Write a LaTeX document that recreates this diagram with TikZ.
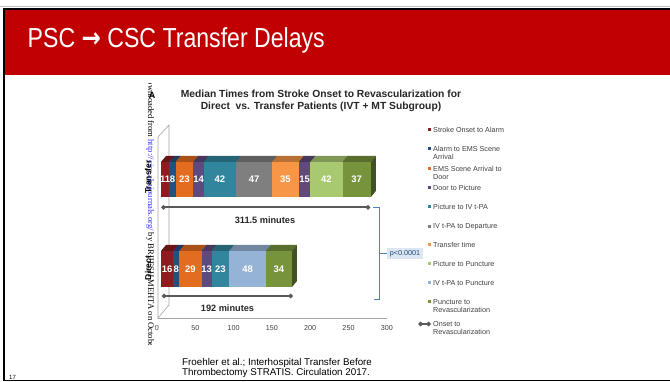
\documentclass[tikz,border=0pt]{standalone}
\usepackage{fontspec}
\setmainfont{Liberation Sans}
\newfontfamily\dlfont{Liberation Serif}
\newfontfamily\symfont{DejaVu Sans}
\usetikzlibrary{arrows.meta, positioning, calc}
\definecolor{slidered}{HTML}{C00000}
\definecolor{onsetred}{HTML}{8E1B1F}
\definecolor{alarm}{HTML}{24507D}
\definecolor{emsdoor}{HTML}{E36C1F}
\definecolor{doorpic}{HTML}{604A7B}
\definecolor{pictpa}{HTML}{31859C}
\definecolor{tpadep}{HTML}{7F7F7F}
\definecolor{transfer}{HTML}{F79646}
\definecolor{picpunct}{HTML}{A9C970}
\definecolor{tpapunct}{HTML}{95B3D7}
\definecolor{revasc}{HTML}{77933C}
\definecolor{wallgray}{HTML}{A6A6A6}
\definecolor{rangegray}{HTML}{595959}
\definecolor{legtext}{HTML}{404040}
\definecolor{pline}{HTML}{4F81BD}
\definecolor{pfill}{HTML}{DCE6F2}
\definecolor{ptext}{HTML}{1F497D}
\definecolor{linkblue}{HTML}{3333FF}

\begin{document}
\begin{tikzpicture}[x=1pt, y=-1pt,
    segval/.style={text=white, inner sep=0pt, font=\fontsize{9.5}{10}\selectfont\bfseries},
    legitem/.style={anchor=north west, align=left, inner sep=0pt, text=legtext, font=\fontsize{7.2}{8}\selectfont},
    legbox/.style={fill=#1, minimum size=3pt, inner sep=0pt},
    axlabel/.style={inner sep=0pt, text=legtext, font=\fontsize{7.2}{8}\selectfont},
    durline/.style={rangegray, line width=2pt, {Diamond[length=5pt,width=5pt]}-{Diamond[length=5pt,width=5pt]}},
    durlabel/.style={inner sep=0pt, text=black!85, font=\fontsize{9.2}{10}\selectfont\bfseries},
    rowlabel/.style={rotate=90, inner sep=0pt, font=\fontsize{8.5}{9}\selectfont\bfseries}]
    \useasboundingbox (0,0) rectangle (670,382);
    \fill[white] (0,0) rectangle (670,382);

    % --- slide frame and header ---
    \draw[gray!50, line width=1pt] (0,7) -- (670,7);
    \fill[slidered] (5,9) rectangle (670,75);
    \draw[black, line width=1.4pt] (3,9) -- (670,9);
    \draw[black, line width=2pt] (4,9) -- (4,381);
    \draw[black, line width=1.4pt] (3,380.5) -- (670,380.5);
    \node[anchor=base west, inner sep=0pt, text=white, font=\fontsize{27.5}{30}\selectfont] (title) at (27.5,47.3)
      {\scalebox{0.84}[1]{PSC {\symfont\bfseries →} CSC Transfer Delays}};

    % --- chart heading ---
    \node[align=center, inner sep=0pt, text=black!85, font=\fontsize{10.3}{11.5}\selectfont\bfseries] (heading) at (321,101)
      {Median Times from Stroke Onset to Revascularization for\\Direct\ \ vs. Transfer Patients (IVT + MT Subgroup)};
    \node[inner sep=0pt, font=\fontsize{9}{9}\selectfont\bfseries] (panel) at (152,95) {A};

    % --- download stamp down the left edge (cut by the figure) ---
    \begin{scope}
      \clip (140,84) rectangle (160,345);
      \node[rotate=-90, anchor=base west, inner sep=0pt, font=\dlfont\fontsize{8.6}{9}\selectfont] (stamp) at (148,74.5)
        {Downloaded from \textcolor{linkblue}{http://circ.ahajournals.org/} by BRIJESH MEHTA on October};
    \end{scope}
    \node[rowlabel] (rowtr) at (148,177) {Transfer};
    \node[rowlabel] (rowdi) at (148,268) {Direct};

    % --- 3D wall and floor ---
    \coordinate (wallbt) at (169,125);
    \coordinate (wallbb) at (169,305);
    \coordinate (wallft) at (158,137);
    \coordinate (wallfb) at (158,318);
    \coordinate (floorr) at (387,318);
    \draw[wallgray, line width=0.6pt] (wallft) -- (wallbt) -- (wallbb) -- (wallfb) -- cycle;
    \draw[wallgray, line width=0.6pt] (wallfb) -- (floorr);
    \foreach \v [count=\i] in {0,50,...,300}
      \node[axlabel] (tick\i) at (157+0.766*\v,328) {\v};

    % --- bars, one segment per interval (minutes) ---
    \begin{scope}[xshift=161pt, x=0.766pt]
      \foreach \s/\v/\c in {0/11/onsetred, 11/8/alarm, 19/23/emsdoor, 42/14/doorpic, 56/42/pictpa,
                            98/47/tpadep, 145/35/transfer, 180/15/doorpic, 195/42/picpunct, 237/37/revasc} {
        \pgfmathsetmacro\segend{\s+\v}
        \fill[\c!75!black] (\s,162) -- (\segend,162) -- ++(6.5,-6) -- (\s+6.5,156) -- cycle;
        \fill[\c!55!black] (\segend,162) -- ++(6.5,-6) -- ++(0,35) -- (\segend,197) -- cycle;
        \fill[\c] (\s,162) rectangle (\segend,197);
      }
      \foreach \s/\v [count=\i] in {0/11, 11/8, 19/23, 42/14, 56/42, 98/47, 145/35, 180/15, 195/42, 237/37}
        \node[segval] (tr\i) at (\s+\v/2,179.5) {\v};

      \foreach \s/\v/\c in {0/16/onsetred, 16/8/alarm, 24/29/emsdoor, 53/13/doorpic, 66/23/pictpa,
                            89/48/tpapunct, 137/34/revasc} {
        \pgfmathsetmacro\segend{\s+\v}
        \fill[\c!75!black] (\s,251) -- (\segend,251) -- ++(6.5,-6) -- (\s+6.5,245) -- cycle;
        \fill[\c!55!black] (\segend,251) -- ++(6.5,-6) -- ++(0,36) -- (\segend,287) -- cycle;
        \fill[\c] (\s,251) rectangle (\segend,287);
      }
      \foreach \s/\v [count=\i] in {0/16, 16/8, 24/29, 53/13, 66/23, 89/48, 137/34}
        \node[segval] (di\i) at (\s+\v/2,269) {\v};
    \end{scope}

    % --- onset to revascularization spans ---
    \coordinate (trs) at (161,207.3);
    \coordinate (tre) at (370.5,207.3);
    \draw[durline] (trs) -- (tre);
    \node[durlabel] (trlen) at (265,220) {311.5 minutes};
    \coordinate (dis) at (161.5,296);
    \coordinate (die) at (293,296);
    \draw[durline] (dis) -- (die);
    \node[durlabel] (dilen) at (227.5,308.5) {192 minutes};

    % --- significance bracket ---
    \coordinate (brtop) at (373,207.3);
    \coordinate (brtopc) at (379.5,207.3);
    \coordinate (brbotc) at (379.5,299);
    \coordinate (brbot) at (374,299);
    \coordinate (brmid) at (379.5,253.5);
    \node[fill=pfill, text=ptext, inner xsep=3pt, inner ysep=2pt, font=\fontsize{7.2}{8}\selectfont] (pval) at (405,253.5) {p<0.0001};
    \draw[pline, line width=0.9pt] (brtop) -- (brtopc) -- (brbotc) -- (brbot);
    \draw[pline, line width=0.9pt] (brmid) -- (pval.west);

    % --- legend ---
    \foreach \m/\c/\t [count=\i] in {130/onsetred/{Stroke Onset to Alarm}, 149/alarm/{Alarm to EMS Scene\\Arrival},
        169/emsdoor/{EMS Scene Arrival to\\Door}, 188/doorpic/{Door to Picture}, 207/pictpa/{Picture to IV t-PA},
        226.5/tpadep/{IV t-PA to Departure}, 245/transfer/{Transfer time}, 264/picpunct/{Picture to Puncture},
        283/tpapunct/{IV t-PA to Puncture}, 302/revasc/{Puncture to\\Revascularization}} {
      \node[legbox=\c] (key\i) at (429.5,\m) {};
      \node[legitem] (leg\i) at (433,\m-2.8) {\t};
    }
    \coordinate (onsetl) at (418,324);
    \coordinate (onsetr) at (431,324);
    \draw[durline, line width=1.5pt] (onsetl) -- (onsetr);
    \node[legitem] (leg11) at (433,321.2) {Onset to\\Revascularization};

    % --- source and slide number ---
    \node[anchor=north west, align=left, inner sep=0pt, font=\fontsize{9.8}{10.2}\selectfont] (cite) at (182,358.3)
      {Froehler et al.; Interhospital Transfer Before\\Thrombectomy STRATIS. Circulation 2017.};
    \node[anchor=base west, inner sep=0pt, font=\fontsize{6}{6}\selectfont] (slidenum) at (9,380) {17};
\end{tikzpicture}
\end{document}
